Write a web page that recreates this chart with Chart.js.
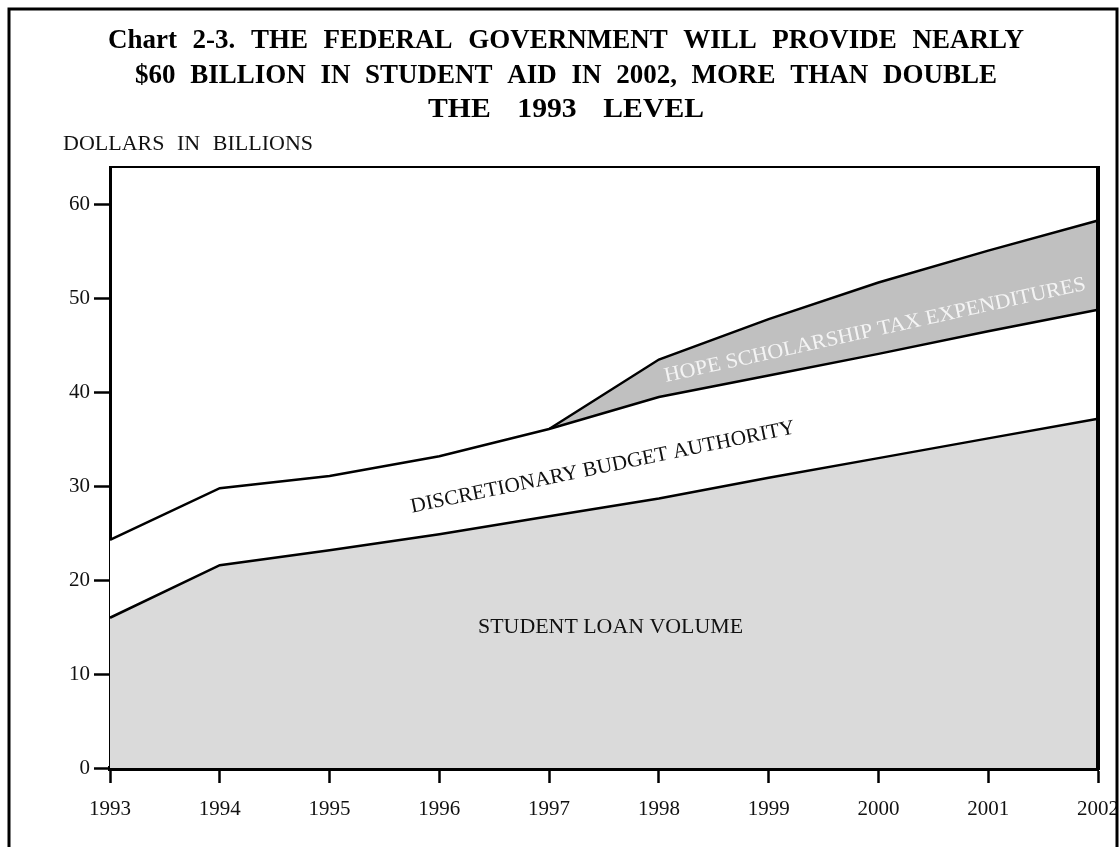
<!DOCTYPE html>
<html>
<head>
<meta charset="utf-8">
<script src="https://cdn.jsdelivr.net/npm/chart.js@4.4.1/dist/chart.umd.min.js"></script>
<style>
  html, body { margin: 0; padding: 0; background: #fff; }
  #wrap { width: 1119px; height: 847px; }
</style>
</head>
<body>
<div id="wrap"><canvas id="aidChart" width="1119" height="847"></canvas></div>
<script>
// fiscal years on the x axis
const years = ['1993', '1994', '1995', '1996', '1997', '1998', '1999', '2000', '2001', '2002']
// dollars in billions, stacked bottom to top
const studentLoan = [16.0, 21.6, 23.2, 24.9, 26.8, 28.7, 30.9, 33.0, 35.1, 37.2]
const discretionary = [8.3, 8.2, 7.9, 8.3, 9.3, 10.8, 10.9, 11.1, 11.4, 11.6]
const hopeTax = [null, null, null, null, 0, 4.0, 6.0, 7.6, 8.6, 9.5]
const yTicks = [0, 10, 20, 30, 40, 50, 60]

const titleLines = [
  'Chart 2-3. THE FEDERAL GOVERNMENT WILL PROVIDE NEARLY',
  '$60 BILLION IN STUDENT AID IN 2002, MORE THAN DOUBLE',
  'THE 1993 LEVEL'
]
const serif = '"Liberation Serif", "Times New Roman", serif'

// draw text centered at (cx, cy), squeezed/stretched to a given width
function drawFitted (ctx, text, cx, cy, width, angle, font, color) {
  ctx.save()
  ctx.font = font
  ctx.fillStyle = color
  ctx.textAlign = 'center'
  ctx.textBaseline = 'middle'
  const w = ctx.measureText(text).width
  ctx.translate(cx, cy)
  ctx.rotate(angle * Math.PI / 180)
  ctx.scale(width / w, 1)
  ctx.fillText(text, 0, 0)
  ctx.restore()
}

// spread words so the line spans `width` from x; sx widens the glyphs themselves
function drawSpread (ctx, text, x, baseline, width, font, color, sx = 1) {
  ctx.save()
  ctx.font = font
  ctx.fillStyle = color
  ctx.textAlign = 'left'
  ctx.textBaseline = 'alphabetic'
  const words = text.split(' ')
  const widths = words.map(w => ctx.measureText(w).width * sx)
  const gap = (width - widths.reduce((a, b) => a + b, 0)) / (words.length - 1)
  let cx = x
  words.forEach((w, i) => {
    ctx.save()
    ctx.translate(cx, baseline)
    ctx.scale(sx, 1)
    ctx.fillText(w, 0, 0)
    ctx.restore()
    cx += widths[i] + gap
  })
  ctx.restore()
}

const decorations = {
  id: 'decorations',
  afterDraw (chart) {
    const { ctx, chartArea, scales } = chart
    const x = scales.x
    const y = scales.y

    // outer frame
    ctx.save()
    ctx.strokeStyle = '#000'
    ctx.lineWidth = 3
    ctx.strokeRect(9, 9, 1108, 860)

    // top and right edges of plot box
    ctx.lineWidth = 2
    ctx.beginPath()
    ctx.moveTo(chartArea.left, chartArea.top)
    ctx.lineTo(chartArea.right, chartArea.top)
    ctx.stroke()
    ctx.lineWidth = 4
    ctx.beginPath()
    ctx.moveTo(chartArea.right, chartArea.top - 1)
    ctx.lineTo(chartArea.right, chartArea.bottom + 2)
    ctx.stroke()
    ctx.restore()

    // title
    const tf = 'bold 27px ' + serif
    drawSpread(ctx, titleLines[0], 108, 48, 916, tf, '#000')
    drawSpread(ctx, titleLines[1], 135, 83, 862, tf, '#000')
    drawSpread(ctx, titleLines[2], 428, 117, 276, tf, '#000', 1.1)

    // units label
    drawSpread(ctx, 'DOLLARS IN BILLIONS', 63, 150, 250, '20px ' + serif, '#111', 1.1)

    // series labels placed in data space
    drawFitted(ctx, 'STUDENT LOAN VOLUME', x.getPixelForValue(4.56), y.getPixelForValue(15.0),
      265, 0, '21px ' + serif, '#111')
    drawFitted(ctx, 'DISCRETIONARY BUDGET AUTHORITY', x.getPixelForValue(4.49), y.getPixelForValue(32.0),
      392, -11.7, '21px ' + serif, '#111')
    drawFitted(ctx, 'HOPE SCHOLARSHIP TAX EXPENDITURES', x.getPixelForValue(6.97), y.getPixelForValue(46.6),
      431, -12.4, '21px ' + serif, '#f4f4f4')
  }
}

const lineStyle = {
  borderColor: '#000',
  borderWidth: 2.5,
  pointRadius: 0,
  tension: 0
}

new Chart(document.getElementById('aidChart'), {
  type: 'line',
  data: {
    labels: years,
    datasets: [
      { ...lineStyle, label: 'Student Loan Volume', data: studentLoan, fill: 'origin', backgroundColor: '#dadada' },
      { ...lineStyle, label: 'Discretionary Budget Authority', data: discretionary, fill: '-1', backgroundColor: '#ffffff' },
      { ...lineStyle, label: 'HOPE Scholarship Tax Expenditures', data: hopeTax, fill: '-1', backgroundColor: '#c0c0c0' }
    ]
  },
  options: {
    responsive: false,
    animation: false,
    layout: { padding: { top: 167, right: 21, bottom: 0, left: 0 } },
    plugins: {
      legend: { display: false },
      tooltip: { enabled: false },
      title: { display: false }
    },
    scales: {
      x: {
        offset: false,
        afterFit: (axis) => {
          axis.height = 79
          axis.paddingLeft = 0
          axis.paddingRight = 0
        },
        ticks: {
          color: '#111',
          font: { family: serif, size: 21 },
          padding: 14,
          maxRotation: 0,
          autoSkip: false
        },
        grid: {
          drawOnChartArea: false,
          drawTicks: true,
          tickLength: 15,
          tickWidth: 2.5,
          tickColor: '#000'
        },
        border: { display: true, color: '#000', width: 5 }
      },
      y: {
        stacked: true,
        min: 0,
        max: 64,
        afterFit: (axis) => {
          axis.width = 110
          axis.paddingTop = 0
          axis.paddingBottom = 0
        },
        afterBuildTicks: (axis) => { axis.ticks = yTicks.map(v => ({ value: v })) },
        ticks: {
          color: '#111',
          font: { family: serif, size: 21 },
          padding: 4
        },
        grid: {
          drawOnChartArea: false,
          drawTicks: true,
          tickLength: 16,
          tickWidth: 2.5,
          tickColor: '#000'
        },
        border: { display: true, color: '#000', width: 3 }
      }
    }
  },
  plugins: [decorations]
})
</script>
</body>
</html>
